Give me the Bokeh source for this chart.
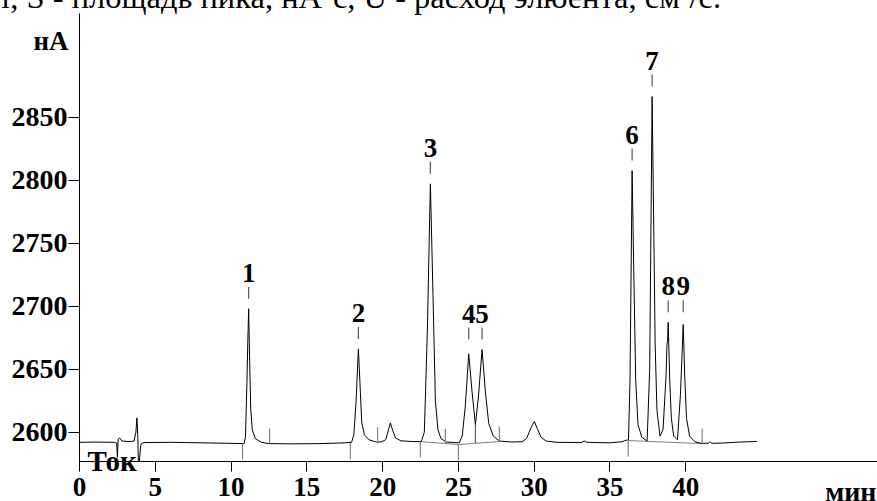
from bokeh.plotting import figure
from bokeh.models import Range1d, Label, FixedTicker
from bokeh.embed import file_html
from bokeh.resources import INLINE
from bokeh.core.properties import value

# ---- data ----
time_min = [0.0, 1.0, 2.3, 2.45, 2.5, 2.55, 2.65, 2.8, 3.3, 3.6, 3.72, 3.79, 3.85, 3.9, 3.97, 4.05, 4.2,
            6.0, 8.0, 10.0, 10.85,
            10.95, 11.05, 11.1, 11.16, 11.22, 11.3, 11.4, 11.6, 12.0, 12.5,
            14.0, 16.0, 17.5, 17.95,
            18.1, 18.25, 18.4, 18.52, 18.62, 18.8, 19.1, 19.6, 19.9,
            20.2, 20.4, 20.51, 20.65, 20.85, 21.2, 22.0, 22.55,
            22.75, 22.95, 23.15, 23.32, 23.48, 23.65, 23.85, 24.2, 25.05,
            25.25, 25.45, 25.68, 25.9, 26.12,
            26.32, 26.56, 26.78, 27.0, 27.3, 27.7, 28.5, 29.2,
            29.5, 29.8, 30.01, 30.2, 30.45, 30.8, 31.5, 33.1, 33.3, 33.5, 35.0, 35.8, 36.05, 36.22,
            36.32, 36.46, 36.58, 36.7, 36.85, 37.1, 37.45,
            37.62, 37.78, 37.88, 37.98, 38.1, 38.3,
            38.5, 38.7, 38.76, 38.8, 38.84, 38.94, 39.05, 39.2, 39.45,
            39.65, 39.83, 39.94, 40.05, 40.25, 40.6, 41.0, 41.5, 41.6, 41.7, 42.5, 43.5, 44.7]
current_nA = [2592.0, 2592.2, 2592.0, 2591.5, 2580.2, 2594.5, 2595.5, 2593.0, 2592.6, 2593.0, 2600.0, 2611.4, 2595.0, 2569.0, 2580.0, 2590.5, 2591.8,
              2592.0, 2591.6, 2591.2, 2591.0,
              2596.0, 2640.0, 2670.0, 2697.9, 2660.0, 2618.0, 2602.0, 2595.0, 2592.0, 2591.0,
              2590.8, 2591.0, 2591.6, 2592.0,
              2598.0, 2625.0, 2666.1, 2635.0, 2608.0, 2598.0, 2594.0, 2592.2, 2592.3,
              2594.0, 2602.5, 2607.4, 2602.0, 2595.5, 2593.2, 2592.6, 2592.6,
              2600.0, 2680.0, 2797.0, 2710.0, 2625.0, 2602.0, 2595.0, 2592.2, 2591.6,
              2597.0, 2620.0, 2662.2, 2632.0, 2606.0,
              2628.0, 2665.6, 2632.0, 2607.0, 2597.0, 2593.0, 2592.3, 2592.5,
              2595.0, 2604.0, 2608.5, 2603.0, 2596.0, 2593.0, 2592.0, 2591.8, 2593.0, 2592.0, 2591.6, 2592.5, 2593.6, 2594.0,
              2640.0, 2807.5, 2720.0, 2640.0, 2606.0, 2596.0, 2593.0,
              2650.0, 2866.2, 2770.0, 2670.0, 2617.0, 2597.0,
              2602.0, 2645.0, 2670.0, 2672.0, 2687.2, 2642.0, 2611.0, 2597.0, 2594.0,
              2630.0, 2685.4, 2642.0, 2611.0, 2597.0, 2592.5, 2591.2, 2591.3, 2592.5, 2591.2, 2591.5, 2592.2, 2592.7]

peak_labels = ["1", "2", "3", "4", "5", "6", "7", "8", "9"]
peak_times = [11.16, 18.40, 23.15, 25.68, 26.56, 36.46, 37.78, 38.84, 39.83]
peak_heights = [2697.9, 2666.1, 2797.0, 2662.2, 2665.6, 2807.5, 2866.2, 2687.2, 2685.4]

start_mark_t = [10.76, 17.87, 22.49, 25.00, 36.20]
start_mark_base = [2591.0, 2591.3, 2592.6, 2590.2, 2593.4]
end_mark_t = [12.54, 19.67, 24.14, 27.70, 41.08]
end_mark_base = [2591.0, 2592.0, 2590.8, 2592.6, 2591.0]
drop_t = [26.12]
drop_top = [2606.0]
drop_base = [2591.4]
baseline_t = [22.49, 25.00, 27.70]
baseline_v = [2592.6, 2590.2, 2592.6]
baseline2_t = [36.20, 41.08]
baseline2_v = [2593.4, 2591.0]

x_ticks = [0, 5, 10, 15, 20, 25, 30, 35, 40]
y_ticks = [2600, 2650, 2700, 2750, 2800, 2850]
y_unit = "нА"
x_unit = "мин"
signal_name = "Ток"
caption = "т, S - площадь пика, нА·с, U - расход элюента, см³/с."

# ---- figure ----
W, H = 877, 501
LEFT, TOP, BOTTOM = 79, 13, 40
SHIFT = 187              # hidden strip above the visible window (holds the text panel)
Y0, Y1 = 2576.8, 2932.1
FONT = "Liberation Serif"

p = figure(width=W, height=H + SHIFT, x_range=Range1d(0, 52.65), y_range=Range1d(Y0, Y1),
           output_backend="svg", toolbar_location=None,
           min_border_left=LEFT, min_border_right=0, min_border_top=TOP + SHIFT,
           min_border_bottom=BOTTOM, styles={"margin-top": f"-{SHIFT}px"})
p.outline_line_color = None
p.grid.visible = False
p.background_fill_color = "white"
p.border_fill_color = "white"

ppu = (H - TOP - BOTTOM) / (Y1 - Y0)  # pixels per nA

for ax in (p.xaxis[0], p.yaxis[0]):
    ax.axis_line_color = "black"
    ax.axis_line_width = 1
    ax.major_tick_line_color = "black"
    ax.minor_tick_line_color = None
    ax.major_tick_in = 0
    ax.major_label_text_font = FONT
    ax.major_label_text_font_style = "bold"
    ax.major_label_text_color = "black"

p.xaxis[0].ticker = FixedTicker(ticks=x_ticks)
p.xaxis[0].major_tick_out = 10
p.xaxis[0].major_label_standoff = 6
p.xaxis[0].major_label_text_font_size = "27px"
p.yaxis[0].ticker = FixedTicker(ticks=y_ticks)
p.yaxis[0].major_tick_out = 11
p.yaxis[0].major_label_standoff = 1
p.yaxis[0].major_label_text_font_size = "28px"

# integration baselines
p.line(baseline_t, baseline_v, line_color="#808080", line_width=1)
p.line(baseline2_t, baseline2_v, line_color="#808080", line_width=1)

# trace
p.line(time_min, current_nA, line_color="black", line_width=1)

# integration marks
p.segment(x0=start_mark_t, y0=start_mark_base, x1=start_mark_t,
          y1=[b - 16 / ppu for b in start_mark_base], line_color="#808080", line_width=1.2)
p.segment(x0=end_mark_t, y0=end_mark_base, x1=end_mark_t,
          y1=[b + 15 / ppu for b in end_mark_base], line_color="#808080", line_width=1.2)
p.segment(x0=drop_t, y0=drop_top, x1=drop_t, y1=drop_base, line_color="#606060", line_width=1.2)

# peak labels and their dashes (pairs of close peaks share one level)
anchor = [max(h2 for t2, h2 in zip(peak_times, peak_heights) if abs(t2 - t) < 1.02)
          for t in peak_times]
p.segment(x0=peak_times, y0=[a + 10 / ppu for a in anchor], x1=peak_times,
          y1=[a + 22 / ppu for a in anchor], line_color="#555555", line_width=1.2)
p.text(x=peak_times, y=anchor, text=peak_labels, y_offset=-36,
       text_align="center", text_baseline="middle",
       text_font=value(FONT), text_font_style="bold", text_font_size="27px", text_color="black")


def canvas_label(text, cx, cy, align, size, style="bold"):
    # cx, cy: visible-window position of the text's left/right end and baseline
    p.add_layout(Label(x=cx, y=cy + SHIFT, x_units="canvas", y_units="canvas", text=text,
                       text_align=align, text_baseline="alphabetic", text_font=FONT,
                       text_font_style=style, text_font_size=size, text_color="black"), "above")


canvas_label(y_unit, 68, 40, "right", "27px")
canvas_label(x_unit, 876, 491, "right", "28px")
canvas_label(signal_name, 87, 460, "left", "29px")
canvas_label(caption, -2, -4, "left", "32.5px", "normal")

open("out.html", "w").write(file_html(p, INLINE))
